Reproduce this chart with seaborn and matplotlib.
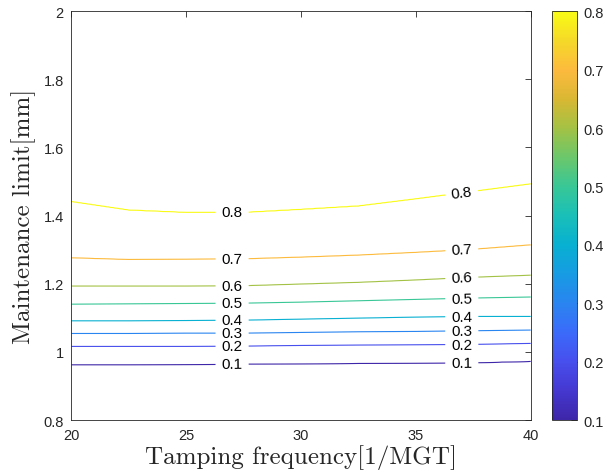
import numpy as np
import matplotlib
matplotlib.use("Agg")
import matplotlib.pyplot as plt
from matplotlib.colors import LinearSegmentedColormap, Normalize
import matplotlib.cm as cm
import seaborn as sns

# ---- data ----
tamping_freq = [20, 22.5, 25, 27.5, 30, 32.5, 35, 37.5, 40]
levels = [0.1, 0.2, 0.3, 0.4, 0.5, 0.6, 0.7, 0.8]
# y-position (maintenance limit) of each contour level at each tamping frequency
y_01 = [0.962, 0.962, 0.963, 0.964, 0.965, 0.966, 0.967, 0.968, 0.972]
y_02 = [1.016, 1.016, 1.016, 1.017, 1.019, 1.020, 1.021, 1.022, 1.025]
y_03 = [1.054, 1.054, 1.055, 1.055, 1.057, 1.059, 1.060, 1.062, 1.064]
y_04 = [1.091, 1.091, 1.092, 1.093, 1.096, 1.099, 1.102, 1.104, 1.104]
y_05 = [1.140, 1.141, 1.142, 1.143, 1.146, 1.150, 1.154, 1.158, 1.161]
y_06 = [1.193, 1.193, 1.193, 1.194, 1.199, 1.204, 1.211, 1.219, 1.225]
y_07 = [1.276, 1.271, 1.272, 1.273, 1.278, 1.284, 1.292, 1.301, 1.314]
y_08 = [1.441, 1.416, 1.409, 1.409, 1.418, 1.428, 1.449, 1.471, 1.493]
label_x = [27.0, 37.0]
x_ticks = [20, 25, 30, 35, 40]
y_ticks = [0.8, 1.0, 1.2, 1.4, 1.6, 1.8, 2.0]
y_tick_labels = ["0.8", "1", "1.2", "1.4", "1.6", "1.8", "2"]
cbar_ticks = [0.1, 0.2, 0.3, 0.4, 0.5, 0.6, 0.7, 0.8]

level_y = np.array([y_01, y_02, y_03, y_04, y_05, y_06, y_07, y_08])

# ---- build the surface grid from the contour positions ----
x = np.array(tamping_freq, dtype=float)
xf = np.linspace(20, 40, 401)
yf = np.linspace(0.8, 2.0, 601)
lev_fine = np.array([np.interp(xf, x, row) for row in level_y])
Z = np.zeros((len(yf), len(xf)))
for j in range(len(xf)):
    ys = np.concatenate(([0.8], lev_fine[:, j], [2.0]))
    zs = np.concatenate(([0.0], levels, [0.9]))
    Z[:, j] = np.interp(yf, ys, zs)
X, Y = np.meshgrid(xf, yf)

# ---- parula-like colormap ----
parula_anchors = [
    (0.2422, 0.1504, 0.6603), (0.2700, 0.2200, 0.8200), (0.2800, 0.3100, 0.9300),
    (0.2300, 0.4200, 0.9800), (0.1600, 0.5200, 0.9400), (0.0900, 0.6100, 0.8900),
    (0.0300, 0.6900, 0.8200), (0.1000, 0.7500, 0.7200), (0.2200, 0.7800, 0.5900),
    (0.4200, 0.7800, 0.4200), (0.6400, 0.7600, 0.2700), (0.8500, 0.7200, 0.2000),
    (0.9900, 0.7300, 0.2400), (0.9600, 0.8500, 0.1600), (0.9769, 0.9839, 0.0805)]
parula = LinearSegmentedColormap.from_list("parula", parula_anchors, N=256)

sns.set_style("white")
plt.rcParams["font.family"] = ["Liberation Sans", "DejaVu Sans"]
edge = "#262626"

fig = plt.figure(figsize=(6.07, 4.77), dpi=100)
ax = fig.add_axes([0.1175, 0.1174, 0.7568, 0.857])
norm = Normalize(vmin=0.1, vmax=0.8)
cs = ax.contour(X, Y, Z, levels=levels, cmap=parula, norm=norm, linewidths=0.8)

manual = []
for lv, ly in zip(levels, level_y):
    for lx in label_x:
        manual.append((lx, float(np.interp(lx, x, ly))))
ax.clabel(cs, levels, inline=True, fmt="%.1f", fontsize=11, colors="black",
          manual=manual, inline_spacing=6)

ax.set_xlim(20, 40)
ax.set_ylim(0.8, 2.0)
ax.set_xticks(x_ticks)
ax.set_yticks(y_ticks)
ax.set_yticklabels(y_tick_labels)
ax.tick_params(direction="in", top=True, right=True, length=4, width=0.6,
               labelsize=10.5, colors=edge, labelcolor=edge)
ax.tick_params(axis="y", pad=5.5)
ax.tick_params(axis="x", pad=6)
for s in ax.spines.values():
    s.set_color(edge)
    s.set_linewidth(0.6)
    s.set_visible(True)

ax.set_xlabel("Tamping frequency[1/MGT]", fontsize=18, family="cmr10", color=edge, labelpad=1)
ax.set_ylabel("Maintenance limit[mm]", fontsize=18, family="cmr10", color=edge, labelpad=5)

cax = fig.add_axes([0.9094, 0.1174, 0.042, 0.857])
sm = cm.ScalarMappable(norm=norm, cmap=parula)
cb = fig.colorbar(sm, cax=cax, ticks=cbar_ticks)
cb.ax.set_yticklabels([f"{t:.1f}" for t in cbar_ticks])
cb.ax.tick_params(direction="in", length=4, width=0.6, labelsize=10.5, colors=edge,
                  labelcolor=edge, pad=4)
cb.outline.set_edgecolor(edge)
cb.outline.set_linewidth(0.6)

fig.savefig("out.png", dpi=100)
